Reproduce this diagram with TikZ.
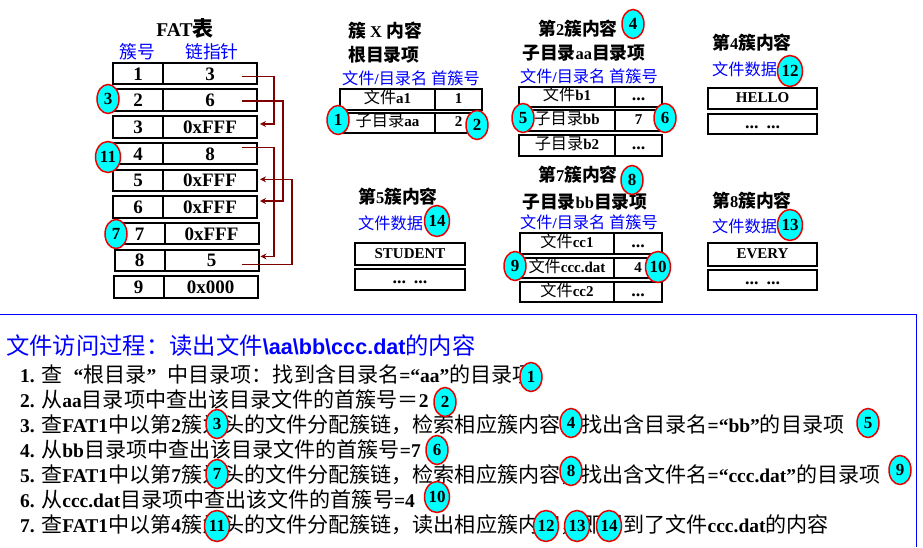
\documentclass[tikz,border=0pt]{standalone}
\usepackage{fontspec}
\setmainfont{Liberation Serif}
\setsansfont{Liberation Sans}
\newfontfamily\cjk{Noto Sans CJK SC}[Scale=1.08]
\usetikzlibrary{arrows.meta,shapes.geometric}
\XeTeXinterchartokenstate=1
\newXeTeXintercharclass\cjkcls
\newcount\cjkcnt
\def\setcjkrange#1#2{\cjkcnt=#1\relax\loop\XeTeXcharclass\cjkcnt=\cjkcls\relax\ifnum\cjkcnt<#2\relax\advance\cjkcnt by 1\relax\repeat}
\setcjkrange{"3000}{"303F}
\setcjkrange{"4E00}{"9FFF}
\setcjkrange{"FF00}{"FFEF}
\def\cjkfont{\cjk\mdseries}
\def\latinfont{\rmfamily\bfseries}
\XeTeXinterchartoks 0 \cjkcls = {\cjkfont}
\XeTeXinterchartoks 4095 \cjkcls = {\cjkfont}
\XeTeXinterchartoks \cjkcls 0 = {\latinfont}
\XeTeXinterchartoks \cjkcls 4095 = {\latinfont}
\newcommand\qo{{\latinfont\makebox[1.08em][r]{“}}\cjkfont}
\newcommand\qc{{\latinfont\makebox[1.08em][l]{”}}\cjkfont}
\newcommand\fsz[1]{\fontsize{#1}{#1}\selectfont}
\definecolor{chainred}{RGB}{128,0,0}
\definecolor{lblue}{RGB}{0,0,255}
\definecolor{bred}{RGB}{235,0,0}
\definecolor{bcyan}{RGB}{0,255,255}
\begin{document}
\begin{tikzpicture}[x=1pt,y=-1pt,
  fatcell/.style={draw, line width=2pt, inner sep=0pt, minimum height=21.5pt,
    text height=13pt, text depth=0pt, font=\bfseries\fsz{19}},
  tcell/.style={draw, line width=2pt, inner sep=0pt, text height=11pt, text depth=3pt,
    font=\bfseries\fsz{15}},
  dcell/.style={tcell, font=\bfseries\fsz{18}},
  heading/.style={anchor=west, inner sep=0pt, font=\def\cjkfont{\cjk\bfseries}\bfseries\fsz{16.5}},
  bluehead/.style={anchor=west, inner sep=0pt, text=lblue, font=\bfseries\fsz{15}},
  badge/.style={ellipse, draw=bred, fill=bcyan, line width=1.5pt, minimum width=22pt,
    minimum height=29pt, inner sep=0pt, font=\bfseries\fsz{17}},
  wbadge/.style={badge, minimum width=25pt, minimum height=31pt},
  chainarrow/.style={draw=chainred, line width=1.5pt, -{Stealth[length=6pt,width=6pt]}},
  stepline/.style={anchor=base west, inner sep=0pt, font=\bfseries\fsz{19.5}}
]
\useasboundingbox (0,0) rectangle (923,547);

% ---------- FAT table ----------
\node[inner sep=0pt, font=\def\cjkfont{\cjk\bfseries}\bfseries\fsz{19.5}] (fattitle) at (185,28) {FAT表};
\node[inner sep=0pt, text=lblue, font=\bfseries\fsz{16.5}] (hnum) at (137,52) {簇号};
\node[inner sep=0pt, text=lblue, font=\bfseries\fsz{16.5}] (hptr) at (212,52) {链指针};
\foreach \i/\v/\dx in {1/3/0,2/6/0,3/0xFFF/0,4/8/0,5/0xFFF/0,6/0xFFF/0,7/0xFFF/1.5,8/5/1.5,9/0x000/0.5}{
  \node[fatcell, minimum width=50pt] (n\i) at ({138+\dx},{73.5+26.7*(\i-1)}) {\i};
  \node[fatcell, minimum width=94pt] (v\i) at ({210+\dx},{73.5+26.7*(\i-1)}) {\v};
}
\draw[chainarrow] ([xshift=-16pt,yshift=-3pt]v1.east) -- ++(32,0) |- ([xshift=2pt,yshift=3pt]v3.east);
\draw[chainarrow] ([xshift=-16pt,yshift=-0.7pt]v2.east) -- ++(41,0) |- ([xshift=2pt,yshift=6pt]v6.east);
\draw[chainarrow] ([xshift=-16pt,yshift=6pt]v4.east) -- ++(32,0) |- ([xshift=1pt,yshift=4pt]v8.east);
\draw[chainarrow] ([xshift=-17.5pt,yshift=-4pt]v8.east) -- ++(50,0) |- ([xshift=2pt,yshift=1pt]v5.east);
\node[badge] (fb3) at (108,99) {3};
\node[wbadge] (fb11) at (108,157) {11};
\node[badge] (fb7) at (116,234) {7};

% ---------- cluster X ----------
\node[heading] (xh1) at (348,31) {簇 X 内容};
\node[heading] (xh2) at (348,55) {根目录项};
\node[bluehead] (xh3) at (342,78) {文件/目录名 首簇号};
\node[tcell, minimum width=95pt, minimum height=21pt] (xa1) at (387.5,99) {文件a1};
\node[tcell, minimum width=47pt, minimum height=21pt] (xb1) at (458.5,99) {1};
\node[tcell, minimum width=95pt, minimum height=20pt] (xa2) at (387.5,122.5) {子目录aa};
\node[tcell, minimum width=47pt, minimum height=20pt] (xb2) at (458.5,122.5) {2};
\node[badge] (tb1) at (338,120) {1};
\node[badge] (tb2) at (477,125) {2};

% ---------- cluster 2 ----------
\node[heading] (c2h1) at (538,29) {第2簇内容};
\node[heading] (c2h2) at (522,53) {子目录aa目录项};
\node[bluehead] (c2h3) at (520,76) {文件/目录名 首簇号};
\node[tcell, minimum width=96pt, minimum height=20pt] (c2a1) at (567,96.5) {文件b1};
\node[dcell, minimum width=47pt, minimum height=20pt] (c2b1) at (638.5,96.5) {...};
\node[tcell, minimum width=96pt, minimum height=21pt] (c2a2) at (567,120.5) {子目录bb};
\node[tcell, minimum width=47pt, minimum height=21pt] (c2b2) at (638.5,120.5) {7};
\node[tcell, minimum width=96pt, minimum height=21pt] (c2a3) at (567,145.5) {子目录b2};
\node[dcell, minimum width=47pt, minimum height=21pt] (c2b3) at (638.5,145.5) {...};
\node[badge] (tb4) at (633,24) {4};
\node[badge] (tb5) at (523,118) {5};
\node[badge] (tb6) at (665,118) {6};

% ---------- cluster 7 ----------
\node[heading] (c7h1) at (538,175) {第7簇内容};
\node[heading] (c7h2) at (522,202) {子目录bb目录项};
\node[bluehead] (c7h3) at (520,222) {文件/目录名 首簇号};
\node[tcell, minimum width=94pt, minimum height=21pt] (c7a1) at (567,243.5) {文件cc1};
\node[dcell, minimum width=48pt, minimum height=21pt] (c7b1) at (638,243.5) {...};
\node[tcell, minimum width=94pt, minimum height=20pt] (c7a2) at (567,268) {文件ccc.dat};
\node[tcell, minimum width=48pt, minimum height=20pt] (c7b2) at (638,268) {4};
\node[tcell, minimum width=94pt, minimum height=20pt] (c7a3) at (567,292) {文件cc2};
\node[dcell, minimum width=48pt, minimum height=20pt] (c7b3) at (638,292) {...};
\node[badge] (tb8) at (632,180) {8};
\node[badge] (tb9) at (515,266) {9};
\node[wbadge] (tb10) at (658,267) {10};

% ---------- cluster 4 ----------
\node[heading] (c4h1) at (712,43) {第4簇内容};
\node[bluehead] (c4h2) at (712,69) {文件数据};
\node[tcell, minimum width=109pt, minimum height=21pt] (c4a) at (762.5,98.5) {HELLO};
\node[dcell, minimum width=109pt, minimum height=20pt] (c4b) at (762.5,124) {...\hspace{8pt}...};
\node[wbadge] (tb12) at (790,71) {12};

% ---------- cluster 5 ----------
\node[heading] (c5h1) at (358,197) {第5簇内容};
\node[bluehead] (c5h2) at (358,223) {文件数据};
\node[tcell, minimum width=110pt, minimum height=22pt] (c5a) at (410,254) {STUDENT};
\node[dcell, minimum width=110pt, minimum height=21pt] (c5b) at (410,279.5) {...\hspace{8pt}...};
\node[wbadge] (tb14) at (437,221) {14};

% ---------- cluster 8 ----------
\node[heading] (c8h1) at (712,201) {第8簇内容};
\node[bluehead] (c8h2) at (712,226) {文件数据};
\node[tcell, minimum width=109pt, minimum height=23pt] (c8a) at (762.5,254.5) {EVERY};
\node[dcell, minimum width=109pt, minimum height=20pt] (c8b) at (762.5,280) {...\hspace{8pt}...};
\node[wbadge] (tb13) at (790,225) {13};

% ---------- process box ----------
\coordinate (fr1) at (0,314);
\coordinate (fr2) at (916,314);
\coordinate (fr3) at (916,547);
\draw[lblue, line width=1pt] (fr1) -- (fr2) -- (fr3);
\node[anchor=base west, inner sep=0pt, text=lblue,
  font=\def\latinfont{\sffamily\bfseries}\sffamily\bfseries\fsz{21.6}] (ptitle) at (6,354)
  {文件访问过程：读出文件{\latinfont\textbackslash aa\textbackslash bb\textbackslash ccc.dat}的内容};
\node[stepline] (l1) at (20,382) {1. 查\qo 根目录\qc 中目录项：找到含目录名=“aa”的目录项};
\node[stepline] (l2) at (20,407) {2. 从aa目录项中查出该目录文件的首簇号＝2};
\node[stepline] (l3) at (20,432) {3. 查FAT1中以第2簇为头的文件分配簇链，检索相应簇内容，找出含目录名=“bb”的目录项};
\node[stepline] (l4) at (20,457) {4. 从bb目录项中查出该目录文件的首簇号=7};
\node[stepline] (l5) at (20,482) {5. 查FAT1中以第7簇为头的文件分配簇链，检索相应簇内容，找出含文件名=“ccc.dat”的目录项};
\node[stepline] (l6) at (20,507) {6. 从ccc.dat目录项中查出该文件的首簇号=4};
\node[stepline] (l7) at (20,532) {7. 查FAT1中以第4簇为头的文件分配簇链，读出相应簇内容，即得到了文件ccc.dat的内容};
\node[badge] (bb1) at (531,377) {1};
\node[badge] (bb2) at (445,402) {2};
\node[badge] (bb3) at (217,424) {3};
\node[badge] (bb4) at (571,423) {4};
\node[badge] (bb5) at (868,423) {5};
\node[badge] (bb6) at (437,450) {6};
\node[badge] (bb7) at (217,474) {7};
\node[badge] (bb8) at (571,471) {8};
\node[badge] (bb9) at (900,470) {9};
\node[wbadge] (bb10) at (437,497) {10};
\node[wbadge] (bb11) at (217,526) {11};
\node[wbadge] (bb12) at (546,526) {12};
\node[wbadge] (bb13) at (577,526) {13};
\node[wbadge] (bb14) at (609,526) {14};
\end{tikzpicture}
\end{document}
